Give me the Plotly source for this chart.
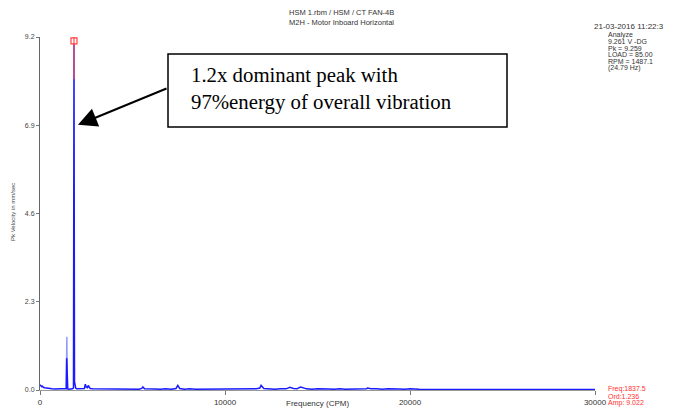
import plotly.graph_objects as go

# ---------------- data ----------------
freq_cpm = [0, 40, 80, 130, 180, 250, 330, 420, 520, 650, 800, 950, 1100, 1250, 1380,
            1420, 1443, 1466, 1500, 1560, 1650, 1750, 1810, 1837.5, 1865, 1890, 1930, 1980,
            2100, 2250, 2400, 2450, 2500, 2560, 2620, 2660, 2720, 2850, 3000, 3200, 3450,
            3700, 3950, 4200, 4500, 4800, 5100, 5350, 5500, 5560, 5650, 5900, 6200, 6500,
            6800, 7100, 7350, 7450, 7550, 7800, 8100, 8400, 8700, 9000, 9300, 9600, 9900,
            10200, 10500, 10800, 11100, 11400, 11700, 11880, 11950, 12100, 12400, 12700,
            13000, 13300, 13400, 13500, 13700, 13900, 14000, 14100, 14400, 14700, 15000,
            15300, 15600, 15900, 16200, 16500, 16800, 17100, 17400, 17650, 17700, 17900,
            18200, 18500, 18800, 19100, 19400, 19700, 20000, 20500, 21000, 21500, 22000,
            22500, 23000, 23500, 24000, 24500, 25000, 25500, 26000, 26500, 27000, 27500,
            28000, 28500, 29000, 29500, 30000]
amp_mm_s = [0.14, 0.12, 0.09, 0.10, 0.07, 0.06, 0.05, 0.04, 0.03, 0.03, 0.025, 0.03, 0.02, 0.03, 0.03,
            0.04, 0.83, 0.05, 0.03, 0.02, 0.02, 0.03, 0.05, 9.022, 0.22, 0.10, 0.05, 0.03,
            0.03, 0.025, 0.04, 0.15, 0.08, 0.06, 0.12, 0.07, 0.04, 0.03, 0.03, 0.02, 0.03,
            0.02, 0.03, 0.02, 0.025, 0.02, 0.03, 0.02, 0.04, 0.08, 0.03, 0.02, 0.025, 0.02,
            0.03, 0.02, 0.04, 0.12, 0.04, 0.02, 0.03, 0.02, 0.02, 0.025, 0.02, 0.03, 0.02,
            0.02, 0.025, 0.02, 0.03, 0.02, 0.03, 0.05, 0.12, 0.04, 0.03, 0.02, 0.03,
            0.03, 0.05, 0.07, 0.04, 0.03, 0.06, 0.08, 0.03, 0.02, 0.03, 0.02,
            0.025, 0.02, 0.03, 0.02, 0.025, 0.02, 0.03, 0.03, 0.05, 0.03, 0.03,
            0.02, 0.03, 0.02, 0.025, 0.02, 0.03, 0.02, 0.01, 0.015, 0.01, 0.01,
            0.015, 0.01, 0.01, 0.015, 0.01, 0.01, 0.015, 0.01, 0.01, 0.01, 0.01,
            0.01, 0.01, 0.01, 0.01, 0.01, 0.01]

# sideband peak (lighter overlay)
side_freq = [1420, 1450, 1475]
side_amp = [0.04, 1.39, 0.05]

# cursor
cursor_freq = [1837.5, 1837.5]
cursor_amp = [8.1, 9.35]
cursor_mark_amp = [9.1]

x_ticks = [0, 10000, 20000, 30000]
y_ticks = [0.0, 2.3, 4.6, 6.9, 9.2]
y_tick_labels = ["0.0", "2.3", "4.6", "6.9", "9.2"]

title_lines = ["HSM 1.rbm / HSM / CT FAN-4B", "M2H - Motor Inboard Horizontal"]
info_date = "21-03-2016 11:22:3"
info_lines = ["Analyze", "9.261 V -DG", "Pk = 9.259", "LOAD = 85.00", "RPM = 1487.1", "(24.79 Hz)"]
cursor_lines = ["Freq:1837.5", "Ord:1.236", "Amp: 9.022"]
note_lines = ["1.2x dominant peak with", "97%energy of overall vibration"]

# ---------------- layout helpers ----------------
# page body has an 8px margin, so figure coords = screen coords - 8
OFF = 8
W, H = 675, 408
L, T = 40 - OFF, 37 - OFF
PW, PH = 555, 353
R = W - L - PW
B = H - T - PH


def px(xs):
    return (xs - OFF - L) / PW


def py(ys):
    return (T + PH - (ys - OFF)) / PH


fig = go.Figure()
fig.add_trace(go.Scatter(x=side_freq, y=side_amp, mode="lines",
                         line=dict(color="rgba(110,120,255,0.75)", width=1.5),
                         hoverinfo="skip", showlegend=False))
fig.add_trace(go.Scatter(x=freq_cpm, y=amp_mm_s, mode="lines",
                         line=dict(color="#1a1aff", width=1.5),
                         showlegend=False))
fig.add_trace(go.Scatter(x=cursor_freq, y=cursor_amp, mode="lines",
                         line=dict(color="rgba(255,80,80,0.75)", width=1.6),
                         cliponaxis=False, showlegend=False))
fig.add_trace(go.Scatter(x=cursor_freq[:1], y=cursor_mark_amp, mode="markers",
                         marker=dict(symbol="square-open", color="#ff4040", size=6,
                                     line=dict(width=1.2)),
                         cliponaxis=False, showlegend=False))

fig.update_layout(
    width=W, height=H,
    margin=dict(l=L, r=R, t=T, b=B, autoexpand=False),
    paper_bgcolor="white", plot_bgcolor="white",
    font=dict(family="Liberation Sans, Arial, sans-serif", size=8, color="#333"),
    xaxis=dict(range=[0, 30000], tickvals=x_ticks, ticktext=[str(v) for v in x_ticks],
               showgrid=False, zeroline=False, showline=True, linecolor="#999",
               linewidth=1, ticks="outside", ticklen=4, tickcolor="#777", automargin=False,
               tickfont=dict(size=8, color="#333")),
    yaxis=dict(range=[0, 9.2], tickvals=y_ticks, ticktext=y_tick_labels,
               showgrid=False, zeroline=False, showline=True, linecolor="#666",
               linewidth=1, ticks="outside", ticklen=3, tickcolor="#777", automargin=False,
               tickfont=dict(size=7, color="#444")),
)

ann = []
# titles
for i, t in enumerate(title_lines):
    ann.append(dict(text=t, x=px(341), y=py(12.5 + 9.5 * i), xref="paper", yref="paper",
                    showarrow=False, xanchor="center", yanchor="middle",
                    font=dict(size=7.5, color="#333")))
# info block
ann.append(dict(text=info_date, x=px(592), y=py(26.5), xref="paper", yref="paper",
                showarrow=False, xanchor="left", yanchor="middle",
                font=dict(size=8, color="#333")))
for i, t in enumerate(info_lines):
    ann.append(dict(text=t, x=px(606), y=py(34.5 + 6.8 * i), xref="paper", yref="paper",
                    showarrow=False, xanchor="left", yanchor="middle",
                    font=dict(size=7, color="#333")))
# cursor readout
for i, t in enumerate(cursor_lines):
    ann.append(dict(text=t, x=px(606), y=py(389 + 7.2 * i), xref="paper", yref="paper",
                    showarrow=False, xanchor="left", yanchor="middle",
                    font=dict(size=7, color="#ff3030")))
# axis titles
ann.append(dict(text="Frequency (CPM)", x=px(317), y=py(403), xref="paper", yref="paper",
                showarrow=False, xanchor="center", yanchor="middle",
                font=dict(size=8, color="#333")))
ann.append(dict(text="Pk Velocity in mm/sec", x=px(13), y=py(212), xref="paper", yref="paper",
                showarrow=False, xanchor="center", yanchor="middle", textangle=-90,
                font=dict(family="Liberation Sans Narrow, Arial Narrow, sans-serif",
                          size=6, color="#444")))
# note text
ann.append(dict(text="<br>".join(note_lines), x=px(189), y=py(88), xref="paper", yref="paper",
                showarrow=False, xanchor="left", yanchor="middle", align="left",
                font=dict(family="Liberation Serif, Times New Roman, serif", size=20.8,
                          color="black")))
# arrow
ann.append(dict(text="", x=2054, y=6.91, xref="x", yref="y", showarrow=True,
                ax=90, ay=-37, axref="pixel", ayref="pixel",
                arrowhead=2, arrowsize=1.9, arrowwidth=2, arrowcolor="black"))
fig.update_layout(annotations=ann)

fig.add_shape(type="rect", xref="paper", yref="paper",
              x0=px(168), x1=px(507), y0=py(127), y1=py(54),
              line=dict(color="black", width=1.5), fillcolor="rgba(0,0,0,0)")

fig.write_html("out.html")
